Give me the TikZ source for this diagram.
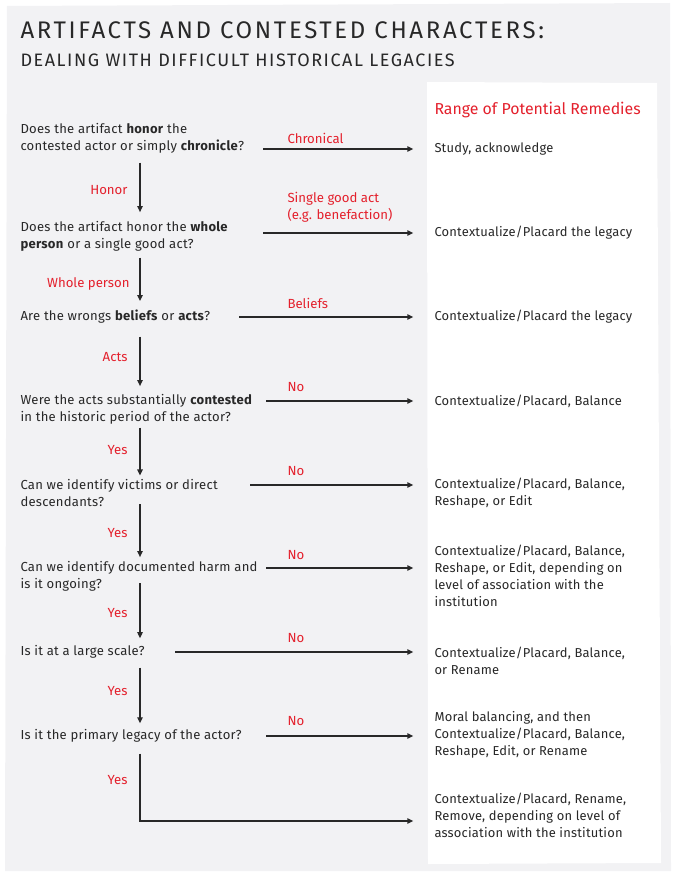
\documentclass[tikz,border=0pt]{standalone}
\usepackage{fontspec}
\setmainfont{Fira Sans}
\usetikzlibrary{arrows.meta}
\definecolor{paper}{RGB}{242,242,244}
\definecolor{remred}{RGB}{228,32,44}
\definecolor{ink}{RGB}{40,40,40}
\tikzset{every picture/.style={line width=0.75pt}}
\tikzset{
  question/.style={anchor=west, align=left, inner sep=0pt, text=ink, font=\fontsize{9.8}{12.75}\selectfont\addfontfeature{LetterSpace=2}},
  remedy/.style={anchor=west, align=left, inner sep=0pt, text=ink, font=\fontsize{9.7}{12.75}\selectfont\addfontfeature{LetterSpace=1.5}},
  answer/.style={inner sep=0pt, align=left, text=remred, font=\fontsize{9.9}{12.75}\selectfont},
  flow/.style={draw=ink, line width=1pt, -{Triangle[length=4.5pt,width=4pt]}},
}

\begin{document}
\begin{tikzpicture}[x=0.75pt,y=0.75pt,yscale=-1,xscale=1]
\useasboundingbox (0,0) rectangle (675,874);

%Shape: paper sheet
\fill[paper] (7,6) -- (670,3) -- (671,871) -- (5,871) -- cycle;
%Shape: remedies panel
\fill[white] (427,82) -- (657,83) -- (661,863) -- (428,864) -- cycle;

% Title
\node[anchor=west, inner sep=0pt, text=ink, font=\fontsize{18}{20}\selectfont\addfontfeature{LetterSpace=11}] (title) at (20,30) {ARTIFACTS AND CONTESTED CHARACTERS:};
\node[anchor=west, inner sep=0pt, text=ink, font=\fontsize{13.5}{16}\selectfont\addfontfeature{LetterSpace=8.6}] (subtitle) at (20,60) {DEALING WITH DIFFICULT HISTORICAL LEGACIES};

% Questions
\node[question] (q1) at (20,138.5) {Does the artifact \textbf{honor} the\\contested actor or simply \textbf{chronicle}?};
\node[question] (q2) at (20,236.5) {Does the artifact honor the \textbf{whole}\\\textbf{person} or a single good act?};
\node[question] (q3) at (20,317) {Are the wrongs \textbf{beliefs} or \textbf{acts}?};
\node[question] (q4) at (20,409.5) {Were the acts substantially \textbf{contested}\\in the historic period of the actor?};
\node[question] (q5) at (20,493) {Can we identify victims or direct\\descendants?};
\node[question] (q6) at (20,576.5) {Can we identify documented harm and\\is it ongoing?};
\node[question] (q7) at (20,652) {Is it at a large scale?};
\node[question] (q8) at (20,736) {Is it the primary legacy of the actor?};

% Remedies
\node[remedy, text=remred, font=\fontsize{11.9}{14}\selectfont] (rhead) at (434,110) {Range of Potential Remedies};
\node[remedy] (r1) at (434,149) {Study, acknowledge};
\node[remedy] (r2) at (434,233) {Contextualize/Placard the legacy};
\node[remedy] (r3) at (434,317) {Contextualize/Placard the legacy};
\node[remedy] (r4) at (434,401) {Contextualize/Placard, Balance};
\node[remedy] (r5) at (434,493) {Contextualize/Placard, Balance,\\Reshape, or Edit};
\node[remedy] (r6) at (434,576) {Contextualize/Placard, Balance,\\Reshape, or Edit, depending on\\level of association with the\\institution};
\node[remedy] (r7) at (434,660.5) {Contextualize/Placard, Balance,\\or Rename};
\node[remedy] (r8) at (434,734.5) {Moral balancing, and then\\Contextualize/Placard, Balance,\\Reshape, Edit, or Rename};
\node[remedy] (r9) at (434,815.5) {Contextualize/Placard, Rename,\\Remove, depending on level of\\association with the institution};

% Arrow starts
\coordinate (spine) at (140,0);
\coordinate (h1) at (263,149);
\coordinate (h2) at (263,233);
\coordinate (h3) at (239,317);
\coordinate (h4) at (266,401);
\coordinate (h5) at (250,485);
\coordinate (h6) at (266,568);
\coordinate (h7) at (175,652);
\coordinate (h8) at (266,736);
\coordinate (h9) at (140,821);

% Horizontal arrows
\draw[flow, shorten >=15.5pt] (h1) -- (h1 -| rhead.west);
\draw[flow, shorten >=15.5pt] (h2) -- (h2 -| rhead.west);
\draw[flow, shorten >=15.5pt] (h3) -- (h3 -| rhead.west);
\draw[flow, shorten >=15.5pt] (h4) -- (h4 -| rhead.west);
\draw[flow, shorten >=15.5pt] (h5) -- (h5 -| rhead.west);
\draw[flow, shorten >=15.5pt] (h6) -- (h6 -| rhead.west);
\draw[flow, shorten >=15.5pt] (h7) -- (h7 -| rhead.west);
\draw[flow, shorten >=15.5pt] (h8) -- (h8 -| rhead.west);

% Vertical arrows
\draw[flow, shorten <=6.4pt, shorten >=6.6pt] (q1.south -| spine) -- (q2.north -| spine);
\draw[flow, shorten <=4.1pt, shorten >=6.6pt] (q2.south -| spine) -- (q3.north -| spine);
\draw[flow, shorten <=9.4pt, shorten >=5.9pt] (q3.south -| spine) -- (q4.north -| spine);
\draw[flow, shorten <=1.9pt, shorten >=2.5pt] (q4.south -| spine) -- (q5.north -| spine);
\draw[flow, shorten <=-2.3pt, shorten >=2.9pt] (q5.south -| spine) -- (q6.north -| spine);
\draw[flow, shorten <=-6.4pt, shorten >=5.1pt] (q6.south -| spine) -- (q7.north -| spine);
\draw[flow, shorten <=6.4pt, shorten >=4.3pt] (q7.south -| spine) -- (q8.north -| spine);
\draw[flow, shorten <=7.9pt, shorten >=15.5pt] (q8.south -| spine) -- (h9) -- (h9 -| rhead.west);

% Answer labels
\node[answer, anchor=west] (a1) at (287,138) {Chronical};
\node[answer, anchor=west] (a2) at (287,207.5) {Single good act\\(e.g. benefaction)};
\node[answer, anchor=west] (a3) at (287,303) {Beliefs};
\node[answer, anchor=west] (a4) at (287,387) {No};
\node[answer, anchor=west] (a5) at (287,471) {No};
\node[answer, anchor=west] (a6) at (287,555) {No};
\node[answer, anchor=west] (a7) at (287,638) {No};
\node[answer, anchor=west] (a8) at (287,721) {No};
\node[answer, anchor=east] (b1) at (128,190) {Honor};
\node[answer, anchor=east] (b2) at (130,284) {Whole person};
\node[answer, anchor=east] (b3) at (128,357) {Acts};
\node[answer, anchor=east] (b4) at (128,450) {Yes};
\node[answer, anchor=east] (b5) at (128,533) {Yes};
\node[answer, anchor=east] (b6) at (128,613) {Yes};
\node[answer, anchor=east] (b7) at (128,691) {Yes};
\node[answer, anchor=east] (b8) at (128,780) {Yes};

\end{tikzpicture}
\end{document}
